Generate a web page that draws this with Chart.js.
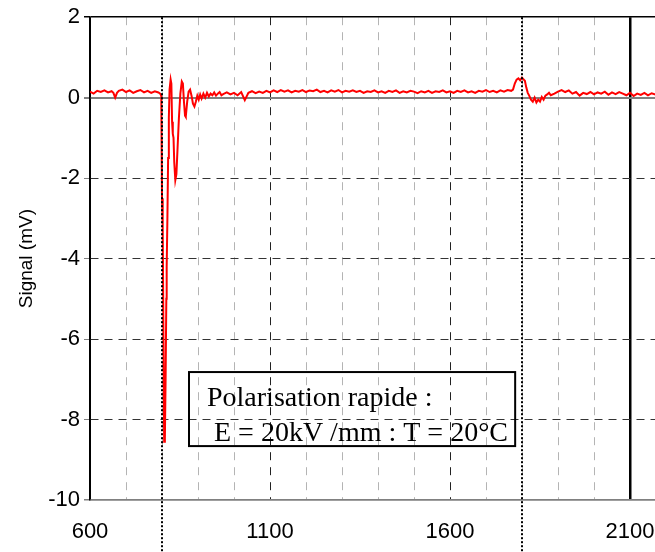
<!DOCTYPE html>
<html>
<head>
<meta charset="utf-8">
<script src="https://cdn.jsdelivr.net/npm/chart.js@4.4.0/dist/chart.umd.min.js"></script>
<style>
  html, body { margin: 0; padding: 0; background: #fff; overflow: hidden; }
  #wrap { width: 655px; height: 552px; overflow: hidden; }
</style>
</head>
<body>
<div id="wrap"><canvas id="chart" width="680" height="552"></canvas></div>
<script>
// signal trace (x in the original axis units, y in mV)
const signalX = [
  600, 610, 620, 630, 640, 650, 660, 665, 670, 675, 680, 690, 700, 710, 720, 730, 740, 750, 760, 770, 780, 790, 795,
  798, 800, 802, 804, 806, 808, 810, 812, 813, 815, 817, 819, 821, 824, 826, 828, 830, 832, 834, 837, 840, 843,
  847, 851, 855, 858, 861, 864, 866, 870, 874, 878, 882, 886, 890, 894, 898, 902, 906, 910, 915, 920, 925, 930,
  935, 940, 945, 950, 955, 960, 965, 970, 980, 990, 1000, 1010, 1020, 1030, 1040, 1050, 1060, 1070, 1080, 1090,
  1100, 1110, 1120, 1130, 1140, 1150, 1160, 1170, 1180, 1190, 1200, 1210, 1220, 1230, 1240, 1250, 1260, 1270,
  1280, 1290, 1300, 1310, 1320, 1330, 1340, 1350, 1360, 1370, 1380, 1390, 1400, 1410, 1420, 1430, 1440, 1450,
  1460, 1470, 1480, 1490, 1500, 1510, 1520, 1530, 1540, 1550, 1560, 1570, 1580, 1590, 1600, 1610, 1620, 1630,
  1640, 1650, 1660, 1670, 1680, 1690, 1700, 1710, 1720, 1730, 1740, 1750, 1760, 1770, 1775, 1780, 1785, 1790,
  1795, 1800, 1805, 1808, 1812, 1816, 1820, 1825, 1830, 1835, 1840, 1845, 1850, 1855, 1860, 1865, 1870, 1875,
  1880, 1890, 1900, 1910, 1920, 1930, 1940, 1950, 1960, 1970, 1980, 1990, 2000, 2010, 2020, 2030, 2040, 2050,
  2060, 2070, 2080, 2090, 2100, 2110, 2120, 2130, 2140, 2150, 2160, 2170, 2180, 2190, 2200
];
const signalY = [
  0.15, 0.10, 0.17, 0.14, 0.18, 0.13, 0.16, 0.12, 0.0, 0.12, 0.17, 0.20, 0.14, 0.18, 0.12, 0.16, 0.19, 0.13, 0.17, 0.12, 0.16, 0.13, 0.10,
  0.05, -2.5, -3.2, -6.0, -8.55, -8.45, -7.0, -5.0, -4.2, -3.0, -1.5, -0.5, 0.2, 0.45, 0.35, -0.6, -0.9, -1.0, -1.6, -2.05, -1.9, -1.3,
  -0.5, 0.1, 0.4, 0.35, -0.1, -0.45, -0.48, -0.1, 0.15, 0.2, 0.05, -0.15, -0.22, -0.1, 0.05, -0.05, 0.08, -0.02, 0.1, 0.0, 0.12, 0.03,
  0.1, 0.06, 0.13, 0.05, 0.1, 0.14, 0.06, 0.09, 0.13, 0.08, 0.12, 0.06, 0.14, -0.06, 0.12, 0.16, 0.11, 0.15, 0.12, 0.17,
  0.13, 0.18, 0.14, 0.19, 0.15, 0.18, 0.13, 0.17, 0.15, 0.19, 0.14, 0.18, 0.16, 0.20, 0.14, 0.17, 0.13, 0.18,
  0.15, 0.19, 0.13, 0.17, 0.15, 0.18, 0.14, 0.17, 0.12, 0.16, 0.14, 0.18, 0.13, 0.16, 0.12, 0.17, 0.14, 0.18,
  0.12, 0.16, 0.13, 0.17, 0.15, 0.11, 0.16, 0.13, 0.17, 0.12, 0.16, 0.14, 0.18, 0.13, 0.16, 0.12, 0.17, 0.14,
  0.18, 0.13, 0.16, 0.12, 0.17, 0.15, 0.19, 0.14, 0.17, 0.13, 0.18, 0.15, 0.19, 0.17, 0.2, 0.35, 0.45, 0.48,
  0.43, 0.5, 0.45, 0.42, 0.25, 0.12, 0.05, -0.05, -0.1, 0.0, -0.12, -0.05, -0.1, 0.02, -0.05, 0.05, 0.08, 0.12,
  0.06, 0.1, 0.15, 0.19, 0.14, 0.18, 0.1, 0.14, 0.05, 0.12, 0.09, 0.14, 0.08, 0.13, 0.1, 0.15, 0.07, 0.13,
  0.09, 0.14, 0.1, 0.06, 0.12, 0.04, 0.1, 0.07, 0.12, 0.06, 0.11, 0.08, 0.12, 0.07, 0.1
];
const xTickLabels = [600, 1100, 1600, 2100];
const yTickLabels = [2, 0, -2, -4, -6, -8, -10];
const markerLines = [800, 1800];
const noteLines = ['Polarisation rapide :', ' E = 20kV /mm : T = 20°C'];

// note box corners, in axis units
const noteBox = { x0: 875, x1: 1781, y0: -6.82, y1: -8.66 };

const sans = '"Liberation Sans", Arial, sans-serif';

const overlay = {
  id: 'overlay',
  afterDatasetsDraw(chart) {
    const { ctx, chartArea, scales } = chart;
    ctx.save();
    ctx.strokeStyle = '#000';
    ctx.lineWidth = 2;
    ctx.setLineDash([2, 2]);
    markerLines.forEach(v => {
      const px = Math.round(scales.x.getPixelForValue(v));
      ctx.beginPath();
      ctx.moveTo(px, chartArea.top);
      ctx.lineTo(px, chart.height);
      ctx.stroke();
    });
    ctx.restore();
  },
  afterDraw(chart) {
    const { ctx, scales } = chart;
    const l = scales.x.getPixelForValue(noteBox.x0);
    const r = scales.x.getPixelForValue(noteBox.x1);
    const t = scales.y.getPixelForValue(noteBox.y0);
    const b = scales.y.getPixelForValue(noteBox.y1);
    ctx.save();
    ctx.strokeStyle = '#000';
    ctx.lineWidth = 2;
    ctx.strokeRect(l, t, r - l, b - t);
    ctx.fillStyle = '#000';
    ctx.font = '28px "Liberation Serif", "Times New Roman", serif';
    ctx.textBaseline = 'alphabetic';
    ctx.fillText(noteLines[0], l + 18, t + 34);
    ctx.fillText(noteLines[1], l + 18, t + 69);
    ctx.restore();
  }
};

const ctx = document.getElementById('chart').getContext('2d');
new Chart(ctx, {
  type: 'line',
  data: {
    datasets: [{
      data: signalX.map((x, i) => ({ x: x, y: signalY[i] })),
      borderColor: '#ff0000',
      borderWidth: 2,
      pointRadius: 0,
      tension: 0,
      fill: false
    }]
  },
  options: {
    responsive: false,
    animation: false,
    layout: { padding: { top: 17, right: 14, left: 0, bottom: 0 } },
    plugins: { legend: { display: false }, tooltip: { enabled: false } },
    scales: {
      x: {
        type: 'linear',
        min: 600,
        max: 2200,
        afterFit: s => { s.height = 52; s.paddingLeft = 0; s.paddingRight = 0; },
        ticks: {
          stepSize: 100,
          autoSkip: false,
          maxRotation: 0,
          padding: 19,
          color: '#000',
          font: { family: sans, size: 22 },
          callback: v => xTickLabels.includes(v) ? String(v) : ''
        },
        grid: {
          drawTicks: false,
          color: c => {
            const v = c.tick ? c.tick.value : 0;
            if (v === 2100 || v === 600) return '#000';
            if (v === 1100 || v === 1600) return '#222';
            return '#b4b4b4';
          },
          lineWidth: c => (c.tick && c.tick.value === 2100) ? 2.5 : 1
        },
        border: {
          color: '#808080',
          width: 1.5,
          dash: c => (c.tick && (c.tick.value === 2100 || c.tick.value === 600)) ? [] : [8, 7]
        }
      },
      y: {
        min: -10,
        max: 2,
        afterFit: s => { s.width = 90; },
        ticks: {
          stepSize: 2,
          padding: 4,
          color: '#000',
          font: { family: sans, size: 22 },
          callback: v => yTickLabels.includes(v) ? String(v) : ''
        },
        title: {
          display: true,
          text: 'Signal (mV)',
          color: '#000',
          font: { family: sans, size: 19 },
          padding: { top: 15, bottom: 0 }
        },
        grid: {
          tickLength: 6,
          tickColor: c => (c.tick && c.tick.value === 2) ? '#000' : '#808080',
          color: c => {
            const v = c.tick ? c.tick.value : 0;
            if (v === 2) return '#000';
            if (v === 0 || v === -10) return '#808080';
            return '#333';
          },
          lineWidth: c => {
            const v = c.tick ? c.tick.value : 0;
            if (v === 0) return 2;
            if (v === 2 || v === -10) return 1.5;
            return 1;
          }
        },
        border: {
          color: '#000',
          width: 1.5,
          dash: c => {
            const v = c.tick ? c.tick.value : 0;
            return (v === 2 || v === 0 || v === -10) ? [] : [8, 6];
          }
        }
      }
    }
  },
  plugins: [overlay]
});
</script>
</body>
</html>
